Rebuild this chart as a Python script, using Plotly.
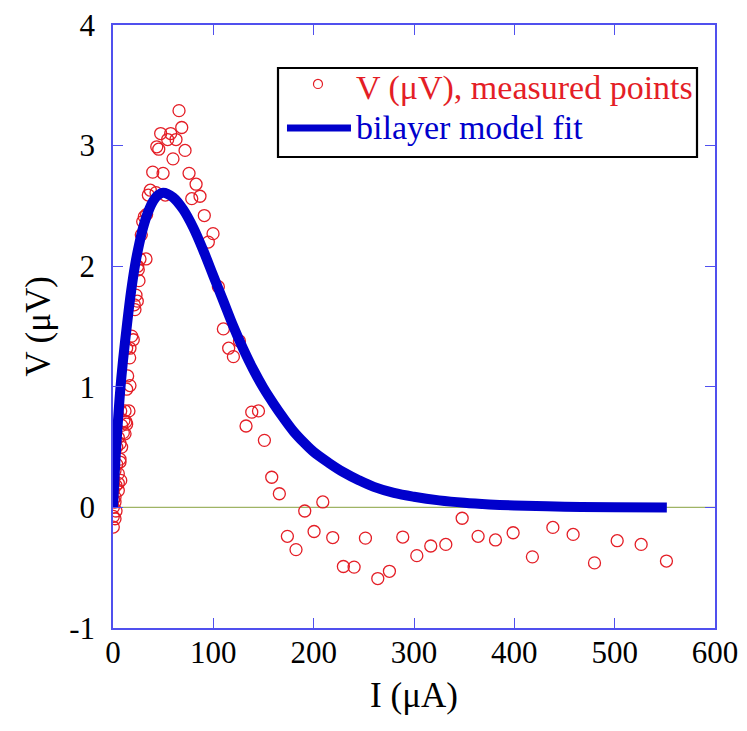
import plotly.graph_objects as go

# Measured points: current I (uA) and voltage V (uV)
I_meas = [0.3, 2, 0.3, 3, 0.3, 2, 0.5, 0.3, 5.3, 3, 0.5, 0.3, 7.7, 5.3, 2, 3.7, 7, 0.3,
          3.7, 7, 2, 5.3, 12, 10.3, 8.6, 12.9, 10.9, 7.7, 15.9, 13.6, 16.9, 14.6, 16.6,
          16.9, 13.6, 20.2, 18.6, 21.9, 21.2, 24.2, 22.9, 25.9, 25.2, 24.6, 26.9, 32.9,
          28.2, 29.6, 31.2, 33.5, 35.2, 37.2, 42.9, 52.1, 39.6, 49.9, 43.6, 45.6, 54.5,
          47.5, 57.5, 62.8, 59.8, 65.8, 68.5, 71.8, 75.8, 82.8, 78.5, 86.7, 91, 99.7, 95,
          105, 110, 115.3, 126, 120, 132.6, 138.3, 145, 150.9, 158.2, 165.8, 173.8, 182.4,
          191.1, 200.4, 209.1, 219, 229.6, 240.3, 251.6, 263.9, 275.5, 288.8, 302.8, 316.7,
          331.7, 348, 363.9, 381.2, 398.8, 418, 438.4, 458.6, 479.9, 502.5, 526.4, 551.6,
          8.6, 7, 5.3, 2, 12, 13.6]
V_meas = [-0.163, -0.094, -0.075, -0.03, 0.0, 0.044, 0.064, 0.14, 0.14, 0.182, 0.197, 0.24,
          0.224, 0.28, 0.307, 0.357, 0.376, 0.445, 0.50, 0.53, 0.54, 0.58, 0.61, 0.62, 0.68,
          0.71, 0.72, 0.80, 0.80, 0.98, 1.01, 1.09, 1.24, 1.32, 1.32, 1.39, 1.42, 1.64, 1.68,
          1.71, 1.76, 1.88, 1.97, 2.0, 2.06, 2.06, 2.26, 2.37, 2.41, 2.43, 2.59, 2.63, 2.61,
          2.59, 2.78, 2.77, 2.99, 2.97, 3.05, 3.10, 3.10, 3.05, 2.89, 3.29, 3.15, 2.96, 2.77,
          2.68, 2.56, 2.58, 2.42, 2.27, 2.20, 1.83, 1.48, 1.32, 1.38, 1.25, 0.675, 0.79, 0.80,
          0.556, 0.25, 0.113, -0.24, -0.35, -0.03, -0.2, 0.045, -0.25, -0.49, -0.495, -0.255,
          -0.59, -0.53, -0.246, -0.40, -0.32, -0.307, -0.09, -0.24, -0.27, -0.21, -0.41,
          -0.166, -0.224, -0.46, -0.276, -0.307, -0.445,
          0.5, 0.40, 0.2, 0.085, 0.80, 0.69]

# Bilayer model fit curve
I_fit = [0, 2, 4, 7, 10, 14, 18, 22, 26, 30, 35, 40, 45, 50, 60, 70, 80, 90, 100, 110,
         120, 130, 140, 150, 160, 170, 180, 190, 200, 215, 230, 245, 260, 280, 300, 325,
         350, 375, 400, 450, 500, 552]
V_fit = [0.0, 0.33, 0.6, 0.95, 1.22, 1.52, 1.79, 2.01, 2.18, 2.32, 2.45, 2.54, 2.59, 2.61,
         2.57, 2.47, 2.32, 2.13, 1.92, 1.71, 1.50, 1.31, 1.14, 0.99, 0.86, 0.74, 0.63, 0.54,
         0.46, 0.37, 0.29, 0.225, 0.17, 0.12, 0.088, 0.058, 0.038, 0.025, 0.016, 0.006,
         0.002, 0.0]

x_tick_vals = [0, 100, 200, 300, 400, 500, 600]
x_tick_text = ["0", "100", "200", "300", "400", "500", "600"]
y_tick_vals = [-1, 0, 1, 2, 3, 4]
y_tick_text = ["-1", "0", "1", "2", "3", "4"]

MEAS_NAME = "V (μV), measured points"
FIT_NAME = "bilayer model fit"

FONT = "Liberation Serif, Times New Roman, serif"
AXIS_COLOR = "#5050ee"
RED = "#e41e26"
BLUE = "#0000cc"

fig = go.Figure()
fig.add_trace(go.Scatter(
    x=I_meas, y=V_meas, mode="markers", name=MEAS_NAME, showlegend=False,
    marker=dict(symbol="circle-open", size=12, color=RED, line=dict(width=1.3, color=RED)),
))
fig.add_trace(go.Scatter(
    x=I_fit, y=V_fit, mode="lines", name=FIT_NAME, showlegend=False,
    line=dict(color=BLUE, width=10, shape="spline", smoothing=1.0),
))

fig.add_hline(y=0, line=dict(color="#9fb465", width=1.3), layer="below")

# Legend box drawn in the plot's paper coordinates
fig.add_shape(type="rect", xref="paper", yref="paper", x0=0.2741, x1=0.9701, y0=0.7811, y1=0.9287,
              line=dict(color="black", width=2.2), fillcolor="white", layer="above")
fig.add_shape(type="circle", xref="paper", yref="paper", x0=0.3330, x1=0.3480, y0=0.8947, y1=0.9097,
              line=dict(color=RED, width=1.2), layer="above")
fig.add_shape(type="line", xref="paper", yref="paper", x0=0.2890, x1=0.3953, y0=0.8292, y1=0.8292,
              line=dict(color=BLUE, width=7), layer="above")
fig.add_annotation(xref="paper", yref="paper", x=0.4000, y=0.8960, xanchor="left", yanchor="middle",
                   text=MEAS_NAME, showarrow=False, font=dict(family=FONT, size=34, color=RED))
fig.add_annotation(xref="paper", yref="paper", x=0.4000, y=0.8300, xanchor="left", yanchor="middle",
                   text=FIT_NAME, showarrow=False, font=dict(family=FONT, size=34, color=BLUE))

# The page body has an 8px margin, so the figure is 8px smaller and margins are shifted
fig.update_layout(
    width=739, height=723,
    margin=dict(l=105, r=32, t=17, b=103, autoexpand=False),
    paper_bgcolor="white", plot_bgcolor="white",
    font=dict(family=FONT, color="black", size=31),
    showlegend=False,
)
fig.update_xaxes(
    range=[0, 600], tickvals=x_tick_vals, ticktext=x_tick_text,
    showgrid=False, zeroline=False, automargin=False,
    showline=True, linecolor=AXIS_COLOR, linewidth=1.5, mirror="ticks",
    ticks="inside", ticklen=10, tickwidth=1.2, tickcolor=AXIS_COLOR,
    tickfont=dict(family=FONT, size=31, color="black"),
    ticklabelstandoff=-4, ticklabeloverflow="allow",
    title=dict(text="I (μA)", font=dict(family=FONT, size=35, color="black"), standoff=14),
)
fig.update_yaxes(
    range=[-1, 4], tickvals=y_tick_vals, ticktext=y_tick_text,
    showgrid=False, zeroline=False, automargin=False,
    showline=True, linecolor=AXIS_COLOR, linewidth=1.5, mirror="ticks",
    ticks="inside", ticklen=10, tickwidth=1.2, tickcolor=AXIS_COLOR,
    tickfont=dict(family=FONT, size=31, color="black"),
    ticklabelstandoff=10, ticklabeloverflow="allow",
    title=dict(text="V (μV)", font=dict(family=FONT, size=35, color="black"), standoff=8),
)

fig.write_html("out.html")
